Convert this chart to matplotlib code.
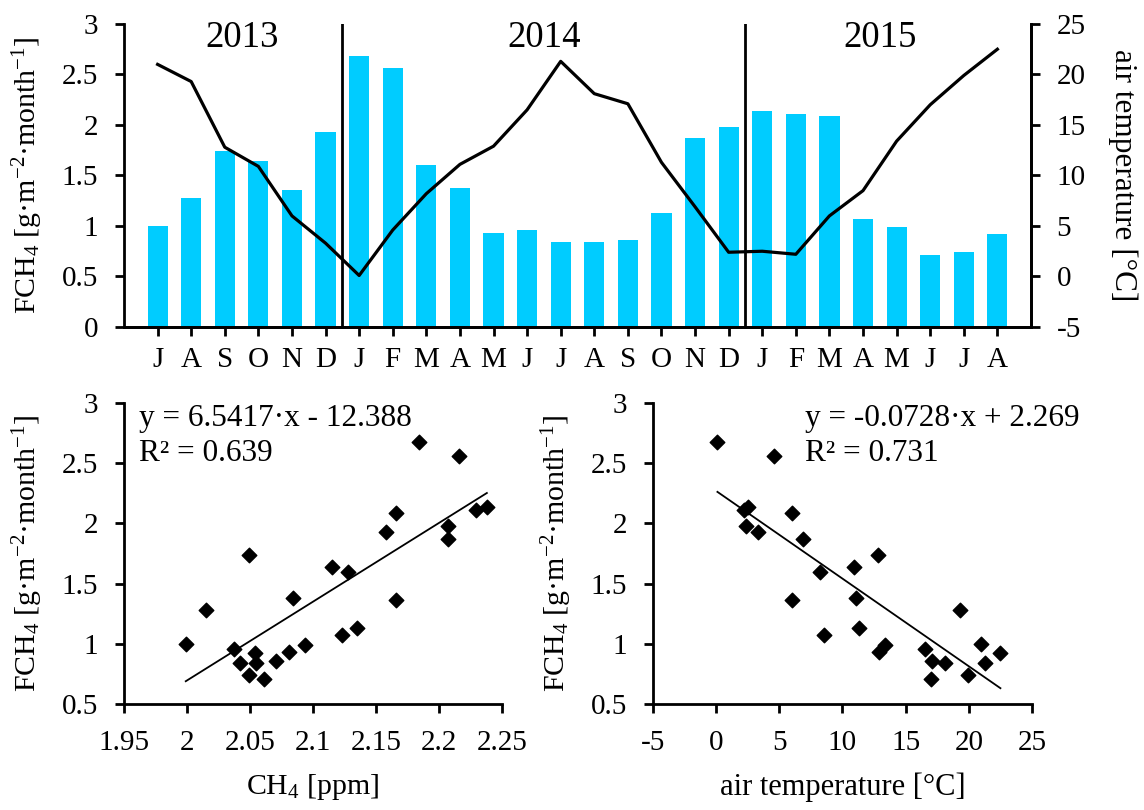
import numpy as np
import matplotlib
matplotlib.use('Agg')
import matplotlib.pyplot as plt

plt.rcParams['font.family'] = ['Liberation Serif', 'DejaVu Serif']
plt.rcParams['mathtext.fontset'] = 'custom'
plt.rcParams['mathtext.rm'] = 'Liberation Serif'
plt.rcParams['mathtext.it'] = 'Liberation Serif:italic'
plt.rcParams['mathtext.bf'] = 'Liberation Serif:bold'
plt.rcParams['axes.unicode_minus'] = False

# monthly data Jul 2013 - Aug 2015
months = ['J', 'A', 'S', 'O', 'N', 'D',
          'J', 'F', 'M', 'A', 'M', 'J', 'J', 'A', 'S', 'O', 'N', 'D',
          'J', 'F', 'M', 'A', 'M', 'J', 'J', 'A']
years = ['2013', '2014', '2015']
year_len = [6, 12, 8]
fch4 = [1.00, 1.28, 1.74, 1.64, 1.36, 1.93,
        2.68, 2.56, 1.60, 1.38, 0.93, 0.96, 0.84, 0.84, 0.86, 1.13, 1.87, 1.98,
        2.14, 2.11, 2.09, 1.07, 0.99, 0.71, 0.74, 0.92]
air_temp = [21.0, 19.3, 12.8, 10.9, 6.0, 3.3,
            0.1, 4.6, 8.2, 11.1, 12.9, 16.5, 21.3, 18.1, 17.1, 11.3, 6.9, 2.4,
            2.5, 2.2, 6.0, 8.5, 13.4, 17.0, 19.9, 22.5]
ch4_ppm = [1.999, 2.015, 2.049, 2.115, 2.166, 2.158,
           2.184, 2.216, 2.128, 2.084, 2.081, 2.037, 2.042, 2.055, 2.071, 2.135, 2.207, 2.207,
           2.238, 2.229, 2.166, 2.123, 2.094, 2.061, 2.049, 2.054]

# regression lines as printed
fit_ch4 = (6.5417, -12.388, 0.639)
fit_temp = (-0.0728, 2.269, 0.731)

bar_color = '#00CCFF'
fs = 21
ylab = 'FCH$_4$ [g·m$^{-2}$·month$^{-1}$]'

fig = plt.figure(figsize=(11.44, 8.1), dpi=100)


def style_axes(ax):
    for s in ['left', 'bottom', 'right', 'top']:
        ax.spines[s].set_linewidth(2)
    ax.tick_params(direction='out', width=2, length=6.5, labelsize=fs, pad=12)


# ---- top panel ----
ax = fig.add_axes([0.1084, 0.5963, 0.7928, 0.3741])
x = np.arange(len(months))
ax.bar(x, fch4, width=0.6, color=bar_color, zorder=2)
ax.set_xlim(-1, len(months))
ax.set_ylim(0, 3)
ax.set_xticks(x)
ax.set_xticklabels(months)
ax.set_yticks(np.arange(0, 3.01, 0.5))
ax.set_yticklabels(['0', '0.5', '1', '1.5', '2', '2.5', '3'])
ax.spines['top'].set_visible(False)
style_axes(ax)
ax.tick_params(axis='x', pad=8)
ax.set_ylabel(ylab, fontsize=21.5, labelpad=12)

start = 0
for i, (yr, n) in enumerate(zip(years, year_len)):
    ax.text(start + (n - 1) / 2, 2.86, yr, ha='center', va='center', fontsize=26.5)
    if i > 0:
        ax.axvline(start - 0.5, color='black', lw=2, zorder=4)
    start += n

ax2 = ax.twinx()
ax2.plot(x, air_temp, color='black', lw=2.3, zorder=5)
ax2.set_ylim(-5, 25)
ax2.set_yticks(np.arange(-5, 26, 5))
ax2.spines['top'].set_visible(False)
ax2.spines['left'].set_visible(False)
style_axes(ax2)
ax2.set_ylabel('air temperature [°C]', fontsize=22.5, rotation=270, labelpad=37)

# ---- bottom left ----
bl = fig.add_axes([0.1084, 0.1309, 0.3304, 0.3716])
bl.scatter(ch4_ppm, fch4, marker='D', s=55, color='black', zorder=3)
xl = np.array([min(ch4_ppm), max(ch4_ppm)])
bl.plot(xl, fit_ch4[0] * xl + fit_ch4[1], color='black', lw=1.3)
bl.set_xlim(1.95, 2.25)
bl.set_ylim(0.5, 3)
bl.set_xticks(np.arange(1.95, 2.2501, 0.05))
bl.set_xticklabels(['1.95', '2', '2.05', '2.1', '2.15', '2.2', '2.25'])
bl.set_yticks(np.arange(0.5, 3.01, 0.5))
bl.set_yticklabels(['0.5', '1', '1.5', '2', '2.5', '3'])
bl.spines['top'].set_visible(False)
bl.spines['right'].set_visible(False)
style_axes(bl)
bl.set_xlabel('CH$_4$ [ppm]', fontsize=21.5, labelpad=12)
bl.set_ylabel(ylab, fontsize=21.5, labelpad=12)
bl.text(1.962, 2.87, 'y = %.4f·x - %.3f' % (fit_ch4[0], -fit_ch4[1]), fontsize=22.5, va='center')
bl.text(1.962, 2.58, 'R² = %.3f' % fit_ch4[2], fontsize=22.5, va='center')

# ---- bottom right ----
br = fig.add_axes([0.5708, 0.1309, 0.3313, 0.3716])
br.scatter(air_temp, fch4, marker='D', s=55, color='black', zorder=3)
tl = np.array([min(air_temp), max(air_temp)])
br.plot(tl, fit_temp[0] * tl + fit_temp[1], color='black', lw=1.3)
br.set_xlim(-5, 25)
br.set_ylim(0.5, 3)
br.set_xticks(np.arange(-5, 26, 5))
br.set_yticks(np.arange(0.5, 3.01, 0.5))
br.set_yticklabels(['0.5', '1', '1.5', '2', '2.5', '3'])
br.spines['top'].set_visible(False)
br.spines['right'].set_visible(False)
style_axes(br)
br.set_xlabel('air temperature [°C]', fontsize=22, labelpad=12)
br.set_ylabel(ylab, fontsize=21.5, labelpad=12)
br.text(7, 2.87, 'y = %.4f·x + %.3f' % (fit_temp[0], fit_temp[1]), fontsize=22.5, va='center')
br.text(7, 2.58, 'R² = %.3f' % fit_temp[2], fontsize=22.5, va='center')

fig.savefig('out.png', dpi=100)
